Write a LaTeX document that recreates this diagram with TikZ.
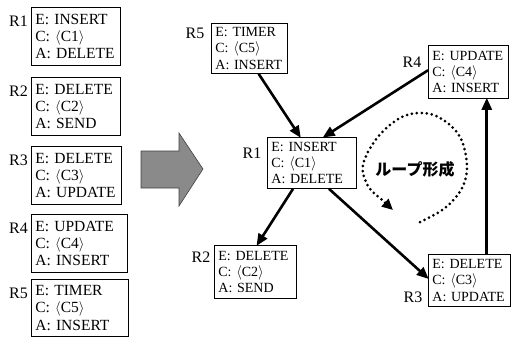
\documentclass[tikz,border=0pt]{standalone}
\usepackage{fontspec}
\setmainfont{Liberation Serif}
\newfontfamily\jpfont{Noto Sans CJK JP}
\usetikzlibrary{calc,arrows.meta}
\newcommand\abr[1]{$\langle$#1$\rangle$}
\newcommand\nohy{\hyphenpenalty=10000 \exhyphenpenalty=10000 \hbadness=10000 \hfuzz=50pt }
\begin{document}
\begin{tikzpicture}[x=1pt,y=-1pt,
  lbox/.style={draw, line width=0.8pt, anchor=north west, align=left, inner xsep=4pt, inner ysep=0pt,
    font=\nohy\fontsize{15.5}{17.3}\selectfont},
  rbox/.style={draw, line width=0.8pt, anchor=north west, align=left, inner xsep=4pt, inner ysep=0pt,
    font=\nohy\fontsize{14}{16.2}\selectfont},
  lab/.style={font=\fontsize{16}{16}\selectfont, inner sep=0pt},
  conn/.style={line width=2.6pt, -{Triangle[length=12pt,width=10pt]}, shorten >=-1pt},
  loop/.style={line width=3pt, line cap=round, dash pattern=on 0pt off 5pt, -{Triangle[length=11pt,width=10pt]}},
  bigarrow/.style={fill=black!46, draw=black!75, line width=0.6pt}
]
\useasboundingbox (0,0) rectangle (511,338);

% left column
\node[lbox, text width=81pt, minimum height=58pt] (L1) at (31,7) {E: INSERT\\C: \abr{C1}\\A: DELETE};
\node[lbox, text width=81pt, minimum height=58pt] (L2) at (31,77) {E: DELETE\\C: \abr{C2}\\A: SEND};
\node[lbox, text width=82pt, minimum height=58pt] (L3) at (31,146) {E: DELETE\\C: \abr{C3}\\A: UPDATE};
\node[lbox, text width=88pt, minimum height=58pt] (L4) at (31,214) {E: UPDATE\\C: \abr{C4}\\A: INSERT};
\node[lbox, text width=89pt, minimum height=57pt] (L5) at (31,279) {E: TIMER\\C: \abr{C5}\\A: INSERT};
\foreach \n in {1,...,5}{
  \node[lab, anchor=east] (LL\n) at ($(L\n.north west)+(-3,14)$) {R\n};
}

% big arrow
\path[bigarrow] (141,151) -- (179,151) -- (179,133) -- (203,169) -- (179,206) -- (179,188) -- (141,188) -- cycle;

% right graph
\node[rbox, text width=68pt, minimum height=50pt] (R5) at (211,23) {E: TIMER\\C: \abr{C5}\\A: INSERT};
\node[rbox, text width=81pt, minimum height=51pt] (R1) at (267,137) {E: INSERT\\C: \abr{C1}\\A: DELETE};
\node[rbox, text width=72pt, minimum height=53pt] (R4) at (428,45) {E: UPDATE\\C: \abr{C4}\\A: INSERT};
\node[rbox, text width=74pt, minimum height=53pt] (R2) at (214,245) {E: DELETE\\C: \abr{C2}\\A: SEND};
\node[rbox, text width=74pt, minimum height=52pt] (R3) at (428,254) {E: DELETE\\C: \abr{C3}\\A: UPDATE};

\node[lab] (LR5) at (195,33) {R5};
\node[lab] (LR1) at (252,153) {R1};
\node[lab] (LR4) at (412,62) {R4};
\node[lab] (LR2) at (201,257) {R2};
\node[lab] (LR3) at (413,297) {R3};

\coordinate (a1) at ($(R5.south west)!0.62!(R5.south east)$);
\coordinate (a2) at ($(R1.north west)!0.37!(R1.north east)$);
\coordinate (b1) at ($(R4.north west)!0.47!(R4.south west)$);
\coordinate (b2) at ($(R1.north west)!0.63!(R1.north east)$);
\coordinate (c1) at ($(R1.south west)!0.29!(R1.south east)$);
\coordinate (c2) at ($(R2.north west)!0.52!(R2.north east)$);
\coordinate (d1) at ($(R1.south west)!0.69!(R1.south east)$);
\coordinate (d2) at ($(R3.north west)!0.46!(R3.south west)$);
\coordinate (e1) at ($(R3.north west)!0.71!(R3.north east)$);

\draw[conn] (a1) -- (a2);
\draw[conn] (b1) -- (b2);
\draw[conn] (c1) -- (c2);
\draw[conn] (d1) -- (d2);
\draw[conn] (e1) -- (e1 |- R4.south);

% loop
\draw[loop] plot[smooth, tension=0.6] coordinates {(420,222) (445,208) (462,188) (467,165) (460,137) (442,119) (422,113) (400,118) (377,138) (363,165) (368,186) (381,199)} -- (393,210);
\node[font=\jpfont\bfseries\fontsize{16}{16}\selectfont, inner sep=0pt] (loopt) at (415,169) {ループ形成};
\end{tikzpicture}
\end{document}
